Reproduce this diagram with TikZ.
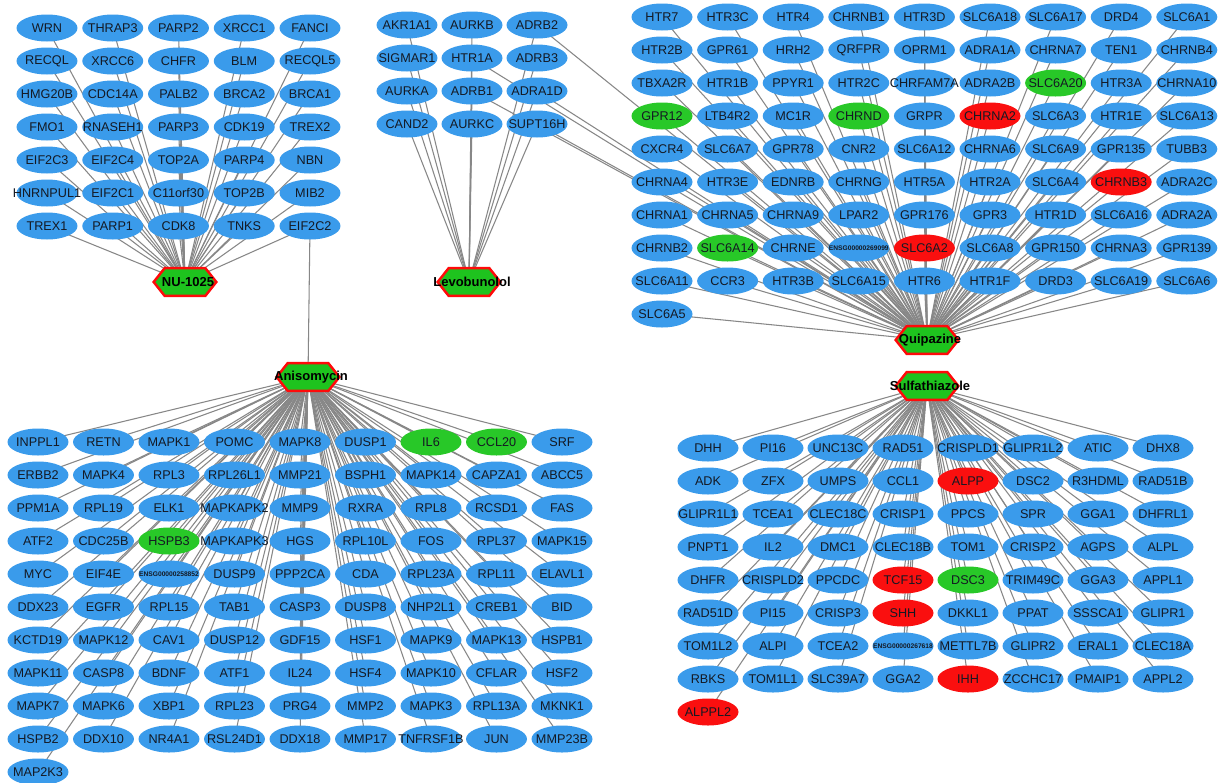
\documentclass[tikz,border=0pt]{standalone}
\usepackage{fontspec}
\setmainfont{Liberation Sans}
\usetikzlibrary{shapes.geometric}
\pgfdeclarelayer{background}
\pgfsetlayers{background,main}
\definecolor{gblue}{RGB}{58,155,235}
\definecolor{ggreen}{RGB}{40,200,40}
\definecolor{gred}{RGB}{250,15,15}
\definecolor{hexgreen}{RGB}{30,195,30}
\definecolor{hexred}{RGB}{255,10,10}
\definecolor{edgegray}{RGB}{135,135,135}
\definecolor{txt}{RGB}{20,25,35}
\tikzset{
  gene/.style={ellipse, fill=gblue, draw=none, inner sep=0pt, minimum width=1.22cm,
    minimum height=0.54cm, text=txt, font=\fontsize{7.2}{8}\selectfont},
  edge/.style={draw=edgegray, line width=0.6pt},
  hubbox/.style={rectangle, draw=none, inner sep=0pt, minimum width=1.24cm, minimum height=0.54cm},
  hexshape/.style={fill=hexgreen, draw=hexred, line width=1.4pt, line join=miter},
  hublabel/.style={font=\bfseries\fontsize{7.4}{8}\selectfont, text=black, inner sep=0pt},
  tinyname/.style={font=\bfseries\fontsize{3.8}{4}\selectfont},
  nodecol/SLC6A20/.style={fill=ggreen},
  nodecol/GPR12/.style={fill=ggreen},
  nodecol/CHRND/.style={fill=ggreen},
  nodecol/SLC6A14/.style={fill=ggreen},
  nodecol/IL6/.style={fill=ggreen},
  nodecol/CCL20/.style={fill=ggreen},
  nodecol/HSPB3/.style={fill=ggreen},
  nodecol/DSC3/.style={fill=ggreen},
  nodecol/CHRNA2/.style={fill=gred},
  nodecol/CHRNB3/.style={fill=gred},
  nodecol/SLC6A2/.style={fill=gred},
  nodecol/ALPP/.style={fill=gred},
  nodecol/TCF15/.style={fill=gred},
  nodecol/SHH/.style={fill=gred},
  nodecol/IHH/.style={fill=gred},
  nodecol/ALPPL2/.style={fill=gred},
  nodecol/ENSG00000269099/.style={tinyname},
  nodecol/ENSG00000258852/.style={tinyname},
  nodecol/ENSG00000267618/.style={tinyname},
}
\newcommand\hubnode[4]{%
  \node[hubbox] (#1) at (#2,#3) {};
  \filldraw[hexshape] (#1.west) -- ([xshift=0.22cm]#1.north west) -- ([xshift=-0.22cm]#1.north east)
    -- (#1.east) -- ([xshift=-0.22cm]#1.south east) -- ([xshift=0.22cm]#1.south west) -- cycle;
  \node[hublabel] (#1lbl) at ([xshift=0.06cm]#1.center) {#4};
}
\newcommand\placegrid[5]{% x0, y0, dx, ncols, list macro
  \foreach \gname [count=\gi from 0] in #5 {%
    \pgfmathtruncatemacro\gcol{mod(\gi,#4)}%
    \pgfmathtruncatemacro\grow{floor(\gi/#4)}%
    \node[gene, nodecol/\gname/.try] (\gname) at ({#1+\gcol*#3},{#2+\grow*33}) {\makebox[0pt]{\gname}};%
  }%
}
\newcommand\linkgrid[2]{% hub, list macro
  \foreach \gname in #2 {\draw[edge] (\gname.center) -- (#1.center);}%
}
\def\NUlist{WRN,THRAP3,PARP2,XRCC1,FANCI,
RECQL,XRCC6,CHFR,BLM,RECQL5,
HMG20B,CDC14A,PALB2,BRCA2,BRCA1,
FMO1,RNASEH1,PARP3,CDK19,TREX2,
EIF2C3,EIF2C4,TOP2A,PARP4,NBN,
HNRNPUL1,EIF2C1,C11orf30,TOP2B,MIB2,
TREX1,PARP1,CDK8,TNKS,EIF2C2}
\def\Levolist{AKR1A1,AURKB,ADRB2,
SIGMAR1,HTR1A,ADRB3,
AURKA,ADRB1,ADRA1D,
CAND2,AURKC,SUPT16H}
\def\Quilist{HTR7,HTR3C,HTR4,CHRNB1,HTR3D,SLC6A18,SLC6A17,DRD4,SLC6A1,
HTR2B,GPR61,HRH2,QRFPR,OPRM1,ADRA1A,CHRNA7,TEN1,CHRNB4,
TBXA2R,HTR1B,PPYR1,HTR2C,CHRFAM7A,ADRA2B,SLC6A20,HTR3A,CHRNA10,
GPR12,LTB4R2,MC1R,CHRND,GRPR,CHRNA2,SLC6A3,HTR1E,SLC6A13,
CXCR4,SLC6A7,GPR78,CNR2,SLC6A12,CHRNA6,SLC6A9,GPR135,TUBB3,
CHRNA4,HTR3E,EDNRB,CHRNG,HTR5A,HTR2A,SLC6A4,CHRNB3,ADRA2C,
CHRNA1,CHRNA5,CHRNA9,LPAR2,GPR176,GPR3,HTR1D,SLC6A16,ADRA2A,
CHRNB2,SLC6A14,CHRNE,ENSG00000269099,SLC6A2,SLC6A8,GPR150,CHRNA3,GPR139,
SLC6A11,CCR3,HTR3B,SLC6A15,HTR6,HTR1F,DRD3,SLC6A19,SLC6A6,
SLC6A5}
\def\Anilist{INPPL1,RETN,MAPK1,POMC,MAPK8,DUSP1,IL6,CCL20,SRF,
ERBB2,MAPK4,RPL3,RPL26L1,MMP21,BSPH1,MAPK14,CAPZA1,ABCC5,
PPM1A,RPL19,ELK1,MAPKAPK2,MMP9,RXRA,RPL8,RCSD1,FAS,
ATF2,CDC25B,HSPB3,MAPKAPK3,HGS,RPL10L,FOS,RPL37,MAPK15,
MYC,EIF4E,ENSG00000258852,DUSP9,PPP2CA,CDA,RPL23A,RPL11,ELAVL1,
DDX23,EGFR,RPL15,TAB1,CASP3,DUSP8,NHP2L1,CREB1,BID,
KCTD19,MAPK12,CAV1,DUSP12,GDF15,HSF1,MAPK9,MAPK13,HSPB1,
MAPK11,CASP8,BDNF,ATF1,IL24,HSF4,MAPK10,CFLAR,HSF2,
MAPK7,MAPK6,XBP1,RPL23,PRG4,MMP2,MAPK3,RPL13A,MKNK1,
HSPB2,DDX10,NR4A1,RSL24D1,DDX18,MMP17,TNFRSF1B,JUN,MMP23B,
MAP2K3}
\def\Sullist{DHH,PI16,UNC13C,RAD51,CRISPLD1,GLIPR1L2,ATIC,DHX8,
ADK,ZFX,UMPS,CCL1,ALPP,DSC2,R3HDML,RAD51B,
GLIPR1L1,TCEA1,CLEC18C,CRISP1,PPCS,SPR,GGA1,DHFRL1,
PNPT1,IL2,DMC1,CLEC18B,TOM1,CRISP2,AGPS,ALPL,
DHFR,CRISPLD2,PPCDC,TCF15,DSC3,TRIM49C,GGA3,APPL1,
RAD51D,PI15,CRISP3,SHH,DKKL1,PPAT,SSSCA1,GLIPR1,
TOM1L2,ALPI,TCEA2,ENSG00000267618,METTL7B,GLIPR2,ERAL1,CLEC18A,
RBKS,TOM1L1,SLC39A7,GGA2,IHH,ZCCHC17,PMAIP1,APPL2,
ALPPL2}
\begin{document}
\begin{tikzpicture}[x=0.02cm, y=-0.02cm]
\useasboundingbox (0,0) rectangle (1227,782);

\hubnode{hNU}{185}{282}{NU-1025}
\hubnode{hLevo}{469}{282}{Levobunolol}
\hubnode{hQui}{927}{340}{Quipazine}
\hubnode{hAni}{308}{377}{Anisomycin}
\hubnode{hSul}{927}{386}{Sulfathiazole}

\placegrid{47}{28}{65.75}{5}{\NUlist}
\placegrid{407}{25}{65}{3}{\Levolist}
\placegrid{662}{17}{65.6}{9}{\Quilist}
\placegrid{38}{442}{65.5}{9}{\Anilist}
\placegrid{708}{448}{65}{8}{\Sullist}

\begin{pgfonlayer}{background}
\fill[white] (0,0) rectangle (1227,782);
\linkgrid{hNU}{\NUlist}
\linkgrid{hLevo}{\Levolist}
\linkgrid{hQui}{\Quilist}
\linkgrid{hAni}{\Anilist}
\linkgrid{hSul}{\Sullist}
\draw[edge] (EIF2C2.center) -- (hAni.center);
\foreach \g in {ADRB2,HTR1A,ADRB1,ADRA1D,SUPT16H} {\draw[edge] (\g.center) -- (hQui.center);}
\end{pgfonlayer}
\end{tikzpicture}
\end{document}
